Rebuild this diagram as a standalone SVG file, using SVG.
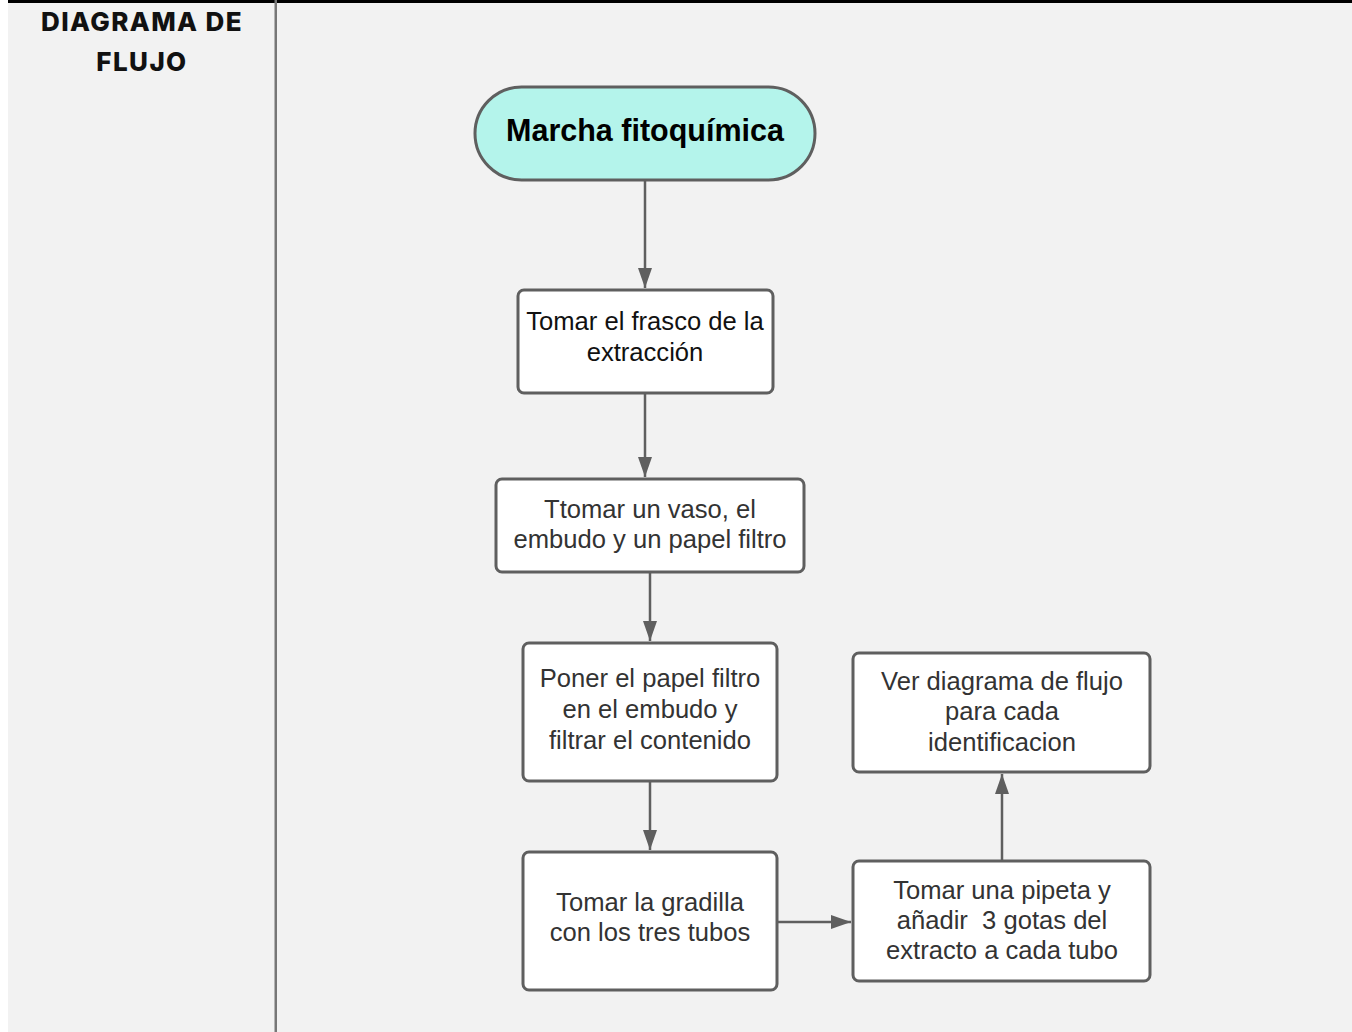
<svg xmlns="http://www.w3.org/2000/svg" width="1352" height="1032" viewBox="0 0 1352 1032">
  <style>
    .box { fill: #ffffff; stroke: #5f5f5f; stroke-width: 3; }
    .term { fill: #b4f4eb; stroke: #5f5f5f; stroke-width: 3; }
    .lbl { font-family: "Liberation Sans", Arial, sans-serif; font-size: 25.6px; fill: #333333; text-anchor: middle; }
    .dark { fill: #111111; }
    .title { font-family: "Liberation Sans", Arial, sans-serif; font-size: 30.5px; font-weight: bold; fill: #000000; text-anchor: middle; }
    .head { font-family: Inter, "Noto Sans", sans-serif; font-size: 26px; font-weight: 800; fill: #111111; text-anchor: middle; letter-spacing: 1.4px; }
    .conn { stroke: #5f5f5f; stroke-width: 2.5; fill: none; marker-end: url(#arrow); }
  </style>
  <defs>
    <marker id="arrow" markerUnits="userSpaceOnUse" markerWidth="20" markerHeight="14" refX="20" refY="7" orient="auto">
      <path d="M0,0 L20,7 L0,14 Z" fill="#5f5f5f"/>
    </marker>
  </defs>

  <!-- page background and table rules -->
  <rect x="0" y="0" width="1352" height="1032" fill="#ffffff"/>
  <rect x="8" y="0" width="1344" height="1032" fill="#f2f2f2"/>
  <rect x="8" y="0" width="1344" height="3" fill="#000000"/>
  <rect x="274.5" y="0" width="2.5" height="1032" fill="#777777"/>

  <g id="header">
    <text class="head" x="142" y="31">DIAGRAMA DE</text>
    <text class="head" x="142" y="71">FLUJO</text>
  </g>

  <g id="connectors">
    <line class="conn" x1="645" y1="181" x2="645" y2="288"/>
    <line class="conn" x1="645" y1="394" x2="645" y2="477"/>
    <line class="conn" x1="650" y1="573" x2="650" y2="641"/>
    <line class="conn" x1="650" y1="782" x2="650" y2="850"/>
    <line class="conn" x1="778" y1="922" x2="851" y2="922"/>
    <line class="conn" x1="1002" y1="860" x2="1002" y2="774"/>
  </g>

  <g id="start">
    <rect class="term" x="475" y="87" width="340" height="93" rx="46.5"/>
    <text class="title" x="645" y="141">Marcha fitoquímica</text>
  </g>

  <g id="step-frasco">
    <rect class="box" x="518" y="290" width="255" height="103" rx="6"/>
    <text class="lbl dark" x="645" y="330">Tomar el frasco de la</text>
    <text class="lbl dark" x="645" y="361">extracción</text>
  </g>

  <g id="step-vaso">
    <rect class="box" x="496" y="479" width="308" height="93" rx="6"/>
    <text class="lbl" x="650" y="518">Ttomar un vaso, el</text>
    <text class="lbl" x="650" y="548">embudo y un papel filtro</text>
  </g>

  <g id="step-filtrar">
    <rect class="box" x="523" y="643" width="254" height="138" rx="6"/>
    <text class="lbl" x="650" y="687">Poner el papel filtro</text>
    <text class="lbl" x="650" y="718">en el embudo y</text>
    <text class="lbl" x="650" y="749">filtrar el contenido</text>
  </g>

  <g id="step-gradilla">
    <rect class="box" x="523" y="852" width="254" height="138" rx="6"/>
    <text class="lbl" x="650" y="911">Tomar la gradilla</text>
    <text class="lbl" x="650" y="941">con los tres tubos</text>
  </g>

  <g id="step-pipeta">
    <rect class="box" x="853" y="861" width="297" height="120" rx="6"/>
    <text class="lbl" x="1002" y="899">Tomar una pipeta y</text>
    <text class="lbl" x="1002" y="929" xml:space="preserve">añadir  3 gotas del</text>
    <text class="lbl" x="1002" y="959">extracto a cada tubo</text>
  </g>

  <g id="step-ver">
    <rect class="box" x="853" y="653" width="297" height="119" rx="6"/>
    <text class="lbl" x="1002" y="690">Ver diagrama de flujo</text>
    <text class="lbl" x="1002" y="720">para cada</text>
    <text class="lbl" x="1002" y="751">identificacion</text>
  </g>
</svg>
